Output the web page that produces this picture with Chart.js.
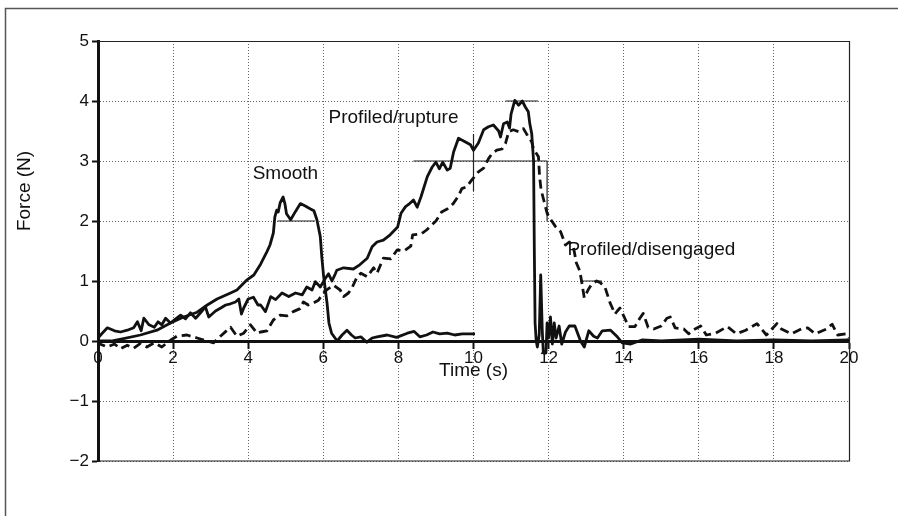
<!DOCTYPE html>
<html lang="en">
<head>
    <meta charset="UTF-8">
    <title>Force vs time</title>
    <script src="https://cdn.jsdelivr.net/npm/chart.js"></script>
    <style>
        body { margin: 0; background: #fff; }
    </style>
</head>
<body>
    <canvas id="chart" width="898" height="516"></canvas>

    <script>
        // [time (s), force (N)]
        const smooth = [[0,0],[0.35,0],[0.68,0.04],[1.13,0.1],[1.57,0.18],[1.93,0.3],[2.28,0.4],[2.64,0.48],[2.91,0.6],[3.17,0.7],[3.53,0.8],[3.7,0.85],[3.97,1.02],[4.15,1.1],[4.33,1.28],[4.5,1.49],[4.58,1.6],[4.67,1.8],[4.71,2.07],[4.76,2.18],[4.8,2.15],[4.85,2.3],[4.93,2.4],[4.98,2.28],[5.02,2.12],[5.13,2.02],[5.26,2.16],[5.39,2.29],[5.52,2.25],[5.66,2.2],[5.75,2.17],[5.83,2.02],[5.92,1.74],[5.96,1.4],[6.01,1.07],[6.1,0.63],[6.15,0.3],[6.22,0.13],[6.37,0],[6.5,0.1],[6.63,0.18],[6.75,0.1],[6.85,0.05],[7,0.07],[7.16,-0.02],[7.3,0.05],[7.43,0.07],[7.7,0.1],[7.95,0.06],[8.24,0.13],[8.42,0.16],[8.57,0.07],[8.75,0.1],[8.92,0.15],[9.1,0.12],[9.3,0.13],[9.5,0.1],[9.7,0.12],[9.85,0.12],[10.04,0.12]];

        const rupture = [[0,0.05],[0.1,0.12],[0.25,0.22],[0.44,0.17],[0.6,0.15],[0.78,0.18],[0.95,0.22],[1.05,0.32],[1.15,0.17],[1.22,0.38],[1.36,0.27],[1.5,0.23],[1.6,0.32],[1.7,0.27],[1.8,0.38],[1.93,0.3],[2.07,0.37],[2.2,0.43],[2.33,0.37],[2.46,0.47],[2.6,0.38],[2.73,0.47],[2.86,0.57],[2.95,0.4],[3.13,0.5],[3.27,0.55],[3.4,0.6],[3.53,0.62],[3.66,0.65],[3.75,0.7],[3.82,0.45],[3.88,0.55],[4,0.7],[4.14,0.73],[4.26,0.6],[4.33,0.6],[4.46,0.49],[4.6,0.74],[4.73,0.69],[4.9,0.8],[5.08,0.74],[5.26,0.8],[5.44,0.77],[5.56,0.9],[5.7,0.85],[5.79,0.99],[5.92,0.9],[6.05,1.04],[6.14,1.12],[6.23,1],[6.32,1.12],[6.36,1.18],[6.54,1.22],[6.8,1.2],[6.97,1.27],[7.17,1.38],[7.3,1.57],[7.43,1.65],[7.6,1.68],[7.78,1.77],[7.98,1.9],[8.07,2.13],[8.19,2.24],[8.28,2.28],[8.4,2.35],[8.5,2.23],[8.6,2.4],[8.77,2.74],[8.9,2.9],[9,2.98],[9.09,2.87],[9.18,2.98],[9.3,2.85],[9.38,2.88],[9.47,3.15],[9.6,3.38],[9.75,3.33],[9.92,3.27],[10,3.18],[10.13,3.3],[10.27,3.52],[10.4,3.57],[10.53,3.6],[10.67,3.5],[10.72,3.4],[10.8,3.62],[10.9,3.65],[10.96,3.55],[11,3.78],[11.1,4.01],[11.2,3.93],[11.3,4],[11.38,3.9],[11.46,3.82],[11.5,3.62],[11.55,3.46],[11.6,3],[11.62,1.5],[11.64,0.3],[11.67,0],[11.7,-0.1],[11.75,0.1],[11.79,1.1],[11.83,0.2],[11.86,-0.2],[11.93,-0.2],[11.96,0.3],[12,0.05],[12.05,0.4],[12.1,-0.05],[12.15,0.3],[12.2,0.05],[12.28,0.25],[12.35,-0.05],[12.45,0.15],[12.55,0.25],[12.7,0.25],[12.85,0],[12.95,-0.1],[13.07,0.17],[13.2,0.08],[13.3,0.05],[13.43,0.17],[13.65,0.18],[13.83,0.07],[13.96,-0.03],[14.19,-0.05],[14.5,0.02],[15,0],[16,0.03],[17,0],[18,0.02],[19,0],[20,0.02]];

        const disengaged = [[0,0],[0.05,-0.05],[0.25,-0.1],[0.44,-0.05],[0.6,-0.13],[0.78,-0.07],[0.95,-0.12],[1.13,-0.04],[1.3,-0.1],[1.5,-0.03],[1.7,-0.1],[1.9,0],[2.1,0.08],[2.37,0.1],[2.64,0.05],[2.9,0],[3.08,-0.03],[3.26,0.08],[3.44,0.18],[3.53,0.23],[3.7,0.08],[3.88,0.13],[4.06,0.27],[4.24,0.13],[4.33,0.15],[4.5,0.17],[4.67,0.35],[4.85,0.43],[5.03,0.42],[5.2,0.49],[5.38,0.54],[5.47,0.65],[5.6,0.6],[5.73,0.63],[5.87,0.68],[6,0.8],[6.13,0.87],[6.27,0.93],[6.45,0.85],[6.54,0.74],[6.67,0.8],[6.76,0.88],[6.9,1.07],[7,1.13],[7.17,1.07],[7.34,1.22],[7.43,1.13],[7.6,1.38],[7.8,1.37],[7.97,1.52],[8.15,1.5],[8.33,1.58],[8.38,1.77],[8.6,1.78],[8.75,1.85],[8.88,1.93],[9,2],[9.15,2.15],[9.3,2.2],[9.46,2.29],[9.6,2.42],[9.69,2.54],[9.82,2.57],[9.95,2.68],[10.13,2.82],[10.27,2.88],[10.4,3.04],[10.49,3.12],[10.62,3.18],[10.76,3.2],[10.85,3.29],[10.94,3.49],[11.06,3.52],[11.2,3.49],[11.33,3.54],[11.46,3.4],[11.55,3.32],[11.6,3.2],[11.73,3.07],[11.76,2.74],[11.8,2.52],[11.87,2.35],[11.96,2.13],[12.05,2.03],[12.18,1.91],[12.32,1.82],[12.45,1.6],[12.55,1.65],[12.66,1.57],[12.74,1.3],[12.83,1.17],[12.88,0.99],[12.95,0.72],[13.05,0.85],[13.15,0.95],[13.28,1],[13.38,0.97],[13.5,0.9],[13.64,0.63],[13.77,0.45],[13.83,0.5],[13.9,0.55],[14.05,0.35],[14.13,0.24],[14.3,0.24],[14.43,0.38],[14.52,0.46],[14.65,0.23],[14.8,0.2],[15,0.25],[15.15,0.38],[15.24,0.4],[15.37,0.22],[15.6,0.2],[15.73,0.12],[15.9,0.2],[16.05,0.25],[16.2,0.1],[16.45,0.13],[16.76,0.24],[17,0.12],[17.25,0.18],[17.55,0.29],[17.8,0.1],[18.08,0.29],[18.2,0.2],[18.47,0.12],[18.73,0.2],[18.9,0.22],[19.1,0.12],[19.4,0.2],[19.55,0.28],[19.7,0.1],[19.93,0.12],[20,0.05]];

        // thin measuring lines drawn on the record (null = break)
        const markers = [[4.78,2],[5.78,2],null,[8.4,3],[11.96,3],null,[10.85,4],[11.72,4],null,[10,2.5],[10,3.45],null,[11.96,3],[11.96,2],null,[12.84,1],[13.42,1]];

        const curveLabels = [
            { text: 'Smooth', t: 4.99, f: 2.78, align: 'center' },
            { text: 'Profiled/rupture', t: 6.14, f: 3.72, align: 'left' },
            { text: 'Profiled/disengaged', t: 12.5, f: 1.52, align: 'left' }
        ];
        const xTitle = 'Time (s)';
        const yTitle = 'Force (N)';

        const toPoints = arr => arr.map(p => p ? { x: p[0], y: p[1] } : { x: null, y: null });

        const narrow = "'Liberation Sans Narrow', 'Liberation Sans', Arial, sans-serif";
        const sans = "'Liberation Sans', Arial, sans-serif";

        const decorPlugin = {
            id: 'decor',
            beforeDatasetsDraw(chart) {
                const { ctx, chartArea: a } = chart;
                ctx.save();
                ctx.strokeStyle = '#222';
                ctx.lineWidth = 1.2;
                ctx.beginPath();
                ctx.moveTo(a.left, a.top + 0.5);
                ctx.lineTo(a.right + 0.5, a.top + 0.5);
                ctx.lineTo(a.right + 0.5, a.bottom);
                ctx.lineTo(a.left, a.bottom);
                ctx.stroke();
                ctx.restore();
            },
            afterDraw(chart) {
                const { ctx, scales: { x, y } } = chart;
                ctx.save();
                // outer frame (top and left edges only)
                ctx.strokeStyle = '#555';
                ctx.lineWidth = 1.5;
                ctx.beginPath();
                ctx.moveTo(5.5, 516);
                ctx.lineTo(5.5, 8.5);
                ctx.lineTo(898, 8.5);
                ctx.stroke();

                ctx.fillStyle = '#111';
                ctx.textBaseline = 'middle';
                ctx.font = '19px ' + sans;
                curveLabels.forEach(l => {
                    ctx.textAlign = l.align;
                    ctx.fillText(l.text, x.getPixelForValue(l.t), y.getPixelForValue(l.f));
                });

                ctx.font = '19px ' + narrow;
                ctx.textAlign = 'center';
                ctx.fillText(xTitle, x.getPixelForValue(10), y.getPixelForValue(0) + 30);

                ctx.translate(25, y.getPixelForValue(2.5));
                ctx.rotate(-Math.PI / 2);
                ctx.fillText(yTitle, 0, 0);
                ctx.restore();
            }
        };

        const ctx = document.getElementById('chart').getContext('2d');
        new Chart(ctx, {
            type: 'line',
            data: {
                datasets: [
                    { label: 'Smooth', data: toPoints(smooth), borderColor: '#111', borderWidth: 2.8 },
                    { label: 'Profiled/rupture', data: toPoints(rupture), borderColor: '#111', borderWidth: 2.8 },
                    { label: 'Profiled/disengaged', data: toPoints(disengaged), borderColor: '#111', borderWidth: 2.8, borderDash: [9, 5] },
                    { label: 'markers', data: toPoints(markers), borderColor: '#222', borderWidth: 1.2, spanGaps: false }
                ]
            },
            options: {
                responsive: false,
                animation: false,
                events: [],
                layout: { padding: { top: 41, right: 49, bottom: 55, left: 0 } },
                plugins: { legend: { display: false }, tooltip: { enabled: false } },
                elements: {
                    point: { radius: 0 },
                    line: { tension: 0, fill: false, borderJoinStyle: 'round' }
                },
                scales: {
                    x: {
                        type: 'linear',
                        min: 0,
                        max: 20,
                        position: { y: 0 },
                        ticks: { stepSize: 2, color: '#111', padding: 1, maxRotation: 0, font: { family: narrow, size: 17 } },
                        grid: { color: '#666', lineWidth: 1, tickLength: 6, tickColor: '#111', tickWidth: 2 },
                        border: { color: '#111', width: 3, dash: [1, 2] }
                    },
                    y: {
                        min: -2,
                        max: 5,
                        afterFit: s => { s.width = 98; },
                        ticks: {
                            stepSize: 1,
                            color: '#111',
                            padding: 3,
                            font: { family: narrow, size: 17 },
                            callback: v => v < 0 ? '\u2212' + (-v) : String(v)
                        },
                        grid: { color: '#666', lineWidth: 1, tickLength: 6, tickColor: '#111', tickWidth: 2 },
                        border: { color: '#111', width: 3, dash: [1, 2] }
                    }
                }
            },
            plugins: [decorPlugin]
        });
    </script>
</body>
</html>
